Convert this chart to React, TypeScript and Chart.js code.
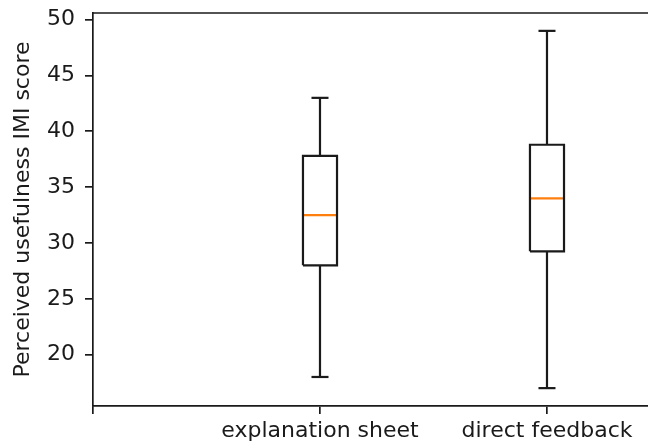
import React, { useEffect, useRef } from 'react';
import { Chart, registerables } from 'chart.js';

Chart.register(...registerables);

const categories = ['', 'explanation sheet', 'direct feedback'];
const xTicks = [0, 1, 2];
const positions = [1, 2];
const whiskerLow = [18, 17];
const quartile1 = [28, 29.25];
const medians = [32.5, 34];
const quartile3 = [37.8, 38.8];
const whiskerHigh = [43, 49];
const yTicks = [20, 25, 30, 35, 40, 45, 50];

const BOX_HALF = 0.075;
const CAP_HALF = 0.0375;
const FONT = { family: 'DejaVu Sans', size: 22 };
const INK = '#1a1a1a';

const topSpine = {
  id: 'topSpine',
  afterDraw(chart: any) {
    const { ctx, chartArea } = chart;
    ctx.save();
    ctx.strokeStyle = INK;
    ctx.lineWidth = 1.7;
    ctx.beginPath();
    ctx.moveTo(chartArea.left, chartArea.top);
    ctx.lineTo(chartArea.right, chartArea.top);
    ctx.stroke();
    ctx.restore();
  },
};

function lineSet(data: any[], color: string) {
  return {
    data,
    showLine: true,
    borderColor: color,
    backgroundColor: color,
    borderWidth: 2.2,
    pointRadius: 0,
    pointHoverRadius: 0,
    spanGaps: false,
    tension: 0,
  };
}

export default function App() {
  const ref = useRef<HTMLCanvasElement>(null);
  useEffect(() => {
    if (!ref.current) return;
    const datasets: any[] = [];
    positions.forEach((p, i) => {
      // box
      datasets.push(
        lineSet(
          [
            { x: p - BOX_HALF, y: quartile1[i] },
            { x: p + BOX_HALF, y: quartile1[i] },
            { x: p + BOX_HALF, y: quartile3[i] },
            { x: p - BOX_HALF, y: quartile3[i] },
            { x: p - BOX_HALF, y: quartile1[i] },
          ],
          INK
        )
      );
      // whiskers
      datasets.push(lineSet([{ x: p, y: quartile1[i] }, { x: p, y: whiskerLow[i] }], INK));
      datasets.push(lineSet([{ x: p, y: quartile3[i] }, { x: p, y: whiskerHigh[i] }], INK));
      // caps
      datasets.push(lineSet([{ x: p - CAP_HALF, y: whiskerLow[i] }, { x: p + CAP_HALF, y: whiskerLow[i] }], INK));
      datasets.push(lineSet([{ x: p - CAP_HALF, y: whiskerHigh[i] }, { x: p + CAP_HALF, y: whiskerHigh[i] }], INK));
      // median
      datasets.push(lineSet([{ x: p - BOX_HALF, y: medians[i] }, { x: p + BOX_HALF, y: medians[i] }], '#ff7f0e'));
    });

    const chart = new Chart(ref.current, {
      type: 'scatter',
      data: { datasets },
      plugins: [topSpine],
      options: {
        animation: false,
        responsive: false,
        maintainAspectRatio: false,
        events: [],
        layout: { padding: { top: 13, right: 0, left: 0, bottom: 0 } },
        plugins: { legend: { display: false }, tooltip: { enabled: false } },
        scales: {
          x: {
            type: 'linear',
            min: 0,
            max: 2.445,
            afterBuildTicks: (s: any) => {
              s.ticks = xTicks.map((v) => ({ value: v }));
            },
            afterFit: (s: any) => {
              s.height = 37;
              s.paddingLeft = 0;
              s.paddingRight = 0;
            },
            ticks: {
              autoSkip: false,
              maxRotation: 0,
              color: INK,
              font: FONT,
              padding: 4,
              callback: (v: any) => categories[xTicks.indexOf(Number(v))] ?? '',
            },
            grid: {
              display: true,
              drawOnChartArea: false,
              drawTicks: true,
              tickLength: 8,
              tickColor: INK,
              lineWidth: 1.7,
            },
            border: { display: true, color: INK, width: 1.7 },
          },
          y: {
            type: 'linear',
            min: 15.4,
            max: 50.6,
            afterBuildTicks: (s: any) => {
              s.ticks = yTicks.map((v) => ({ value: v }));
            },
            afterFit: (s: any) => {
              s.width = 93;
              s.paddingTop = 0;
              s.paddingBottom = 0;
            },
            ticks: { color: INK, font: FONT, padding: 10 },
            grid: {
              display: true,
              drawOnChartArea: false,
              drawTicks: true,
              tickLength: 8,
              tickColor: INK,
              lineWidth: 1.7,
            },
            border: { display: true, color: INK, width: 1.7 },
            title: {
              display: true,
              text: 'Perceived usefulness IMI score',
              color: INK,
              font: FONT,
              padding: { top: 10, bottom: 0 },
            },
          },
        },
      },
    });
    return () => chart.destroy();
  }, []);

  return (
    <div style={{ position: 'absolute', left: 0, top: 0, width: 648, height: 443, background: '#fff' }}>
      <canvas ref={ref} width={648} height={443} style={{ width: 648, height: 443 }} />
    </div>
  );
}
